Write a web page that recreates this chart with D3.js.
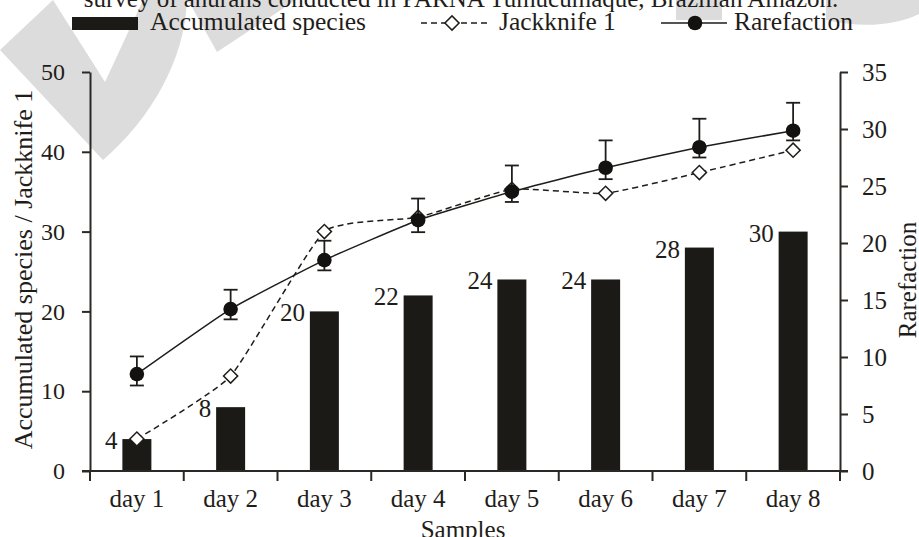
<!DOCTYPE html>
<html>
<head>
<meta charset="utf-8">
<script src="https://cdn.jsdelivr.net/npm/d3@7"></script>
<style>
  body { margin: 0; background: #fff; }
  svg { display: block; font-family: "Liberation Serif", "Times New Roman", serif; }
</style>
</head>
<body>
<script>
// data
const days = ["day 1", "day 2", "day 3", "day 4", "day 5", "day 6", "day 7", "day 8"];
const accumulated = [4, 8, 20, 22, 24, 24, 28, 30];
const jackknife = [4.0, 11.9, 30.0, 31.8, 35.3, 34.8, 37.4, 40.2];
const rarefaction = [8.5, 14.2, 18.5, 22.0, 24.5, 26.6, 28.4, 29.85];
const rareErrUp = [1.55, 1.7, 1.7, 1.9, 2.3, 2.4, 2.5, 2.45];
const rareErrDown = [1.0, 0.9, 0.9, 1.05, 0.9, 1.0, 0.9, 0.85];
const leftTicks = [0, 10, 20, 30, 40, 50];
const rightTicks = [0, 5, 10, 15, 20, 25, 30, 35];

const W = 919, H = 537,
      plotLeft = 90, plotRight = 840, plotTop = 72, plotBottom = 471,
      ink = "#1f1d1a";

const svg = d3.select("body").append("svg")
  .attr("width", W).attr("height", H);

// faint watermark shapes behind the chart
const wm = svg.append("g").attr("fill", "#dcdcdc");
wm.append("path").attr("d", "M0,50 L53,0 L105,82 L143,0 L187,0 C185,60 150,120 103,160 Z");
wm.append("path").attr("d", "M188,0 L217,52 L296,0 Z");
wm.append("path").attr("d", "M676,0 L722,0 L722,20 L676,20 Z");
wm.append("path").attr("d", "M826,0 L919,0 L919,14 C895,26 860,28 826,20 Z");

const x = d3.scaleBand(days, [plotLeft, plotRight]);
const yL = d3.scaleLinear([0, 50], [plotBottom, plotTop]);
const yR = d3.scaleLinear([0, 35], [plotBottom, plotTop]);
const barW = 29;
const cx = i => x(days[i]) + x.bandwidth() / 2;
const smooth = d3.curveCardinal.tension(0.55);

// bars
svg.append("g").selectAll("rect")
  .data(accumulated)
  .join("rect")
    .attr("x", (d, i) => cx(i) - barW / 2)
    .attr("y", d => yL(d))
    .attr("width", barW)
    .attr("height", d => yL(0) - yL(d))
    .attr("fill", "#1c1a17");

svg.append("g").selectAll("text")
  .data(accumulated)
  .join("text")
    .attr("x", (d, i) => cx(i) - barW / 2 - 5)
    .attr("y", d => yL(d) + 10)
    .attr("text-anchor", "end")
    .attr("font-size", 25)
    .attr("fill", ink)
    .text(d => d);

// jackknife dashed line
svg.append("path")
  .datum(jackknife)
  .attr("fill", "none")
  .attr("stroke", ink)
  .attr("stroke-width", 1.5)
  .attr("stroke-dasharray", "6,4")
  .attr("d", d3.line((d, i) => cx(i), d => yL(d)).curve(smooth));

const diamond = d3.symbol(d3.symbolSquare, 100);
svg.append("g").selectAll("path")
  .data(jackknife)
  .join("path")
    .attr("transform", (d, i) => `translate(${cx(i)},${yL(d)}) rotate(45)`)
    .attr("d", diamond)
    .attr("fill", "#fff")
    .attr("stroke", ink)
    .attr("stroke-width", 1.5);

// rarefaction line
svg.append("path")
  .datum(rarefaction)
  .attr("fill", "none")
  .attr("stroke", ink)
  .attr("stroke-width", 1.5)
  .attr("d", d3.line((d, i) => cx(i), d => yR(d)).curve(smooth));

const err = svg.append("g").attr("stroke", ink).attr("stroke-width", 1.8);
rarefaction.forEach((v, i) => {
  const hi = yR(v + rareErrUp[i]), lo = yR(v - rareErrDown[i]);
  err.append("line").attr("x1", cx(i)).attr("x2", cx(i)).attr("y1", hi).attr("y2", lo);
  err.append("line").attr("x1", cx(i) - 7).attr("x2", cx(i) + 7).attr("y1", hi).attr("y2", hi);
  err.append("line").attr("x1", cx(i) - 7).attr("x2", cx(i) + 7).attr("y1", lo).attr("y2", lo);
});

svg.append("g").selectAll("circle")
  .data(rarefaction)
  .join("circle")
    .attr("cx", (d, i) => cx(i))
    .attr("cy", d => yR(d))
    .attr("r", 7.3)
    .attr("fill", "#141210");

// axes
function styleAxis(g) {
  g.selectAll(".domain, .tick line").attr("stroke", "#2b2926").attr("stroke-width", 2);
  g.selectAll(".tick text").attr("fill", ink);
}

svg.append("g")
  .attr("transform", `translate(${plotLeft},0)`)
  .call(d3.axisLeft(yL).tickValues(leftTicks).tickSizeInner(8).tickSizeOuter(0).tickPadding(17))
  .attr("font-family", null).attr("font-size", 24)
  .call(styleAxis);

svg.append("g")
  .attr("transform", `translate(${plotRight},0)`)
  .call(d3.axisRight(yR).tickValues(rightTicks).tickSizeInner(8).tickSizeOuter(0).tickPadding(14))
  .attr("font-family", null).attr("font-size", 25)
  .call(styleAxis);

const gx = svg.append("g")
  .attr("transform", `translate(0,${plotBottom})`)
  .call(d3.axisBottom(x).tickSize(0).tickPadding(18))
  .attr("font-family", null).attr("font-size", 25)
  .call(styleAxis);
gx.select(".domain").attr("d", `M${plotLeft - 8},0H${plotRight + 8}`);
gx.selectAll(".bound")
  .data(days.map(d => x(d)).concat([plotRight]))
  .join("line")
    .attr("class", "bound")
    .attr("x1", d => d).attr("x2", d => d)
    .attr("y1", 0).attr("y2", 10)
    .attr("stroke", "#2b2926").attr("stroke-width", 2);

// axis titles
svg.append("text")
  .attr("transform", `translate(32,${(plotTop + plotBottom) / 2 - 2}) rotate(-90)`)
  .attr("text-anchor", "middle").attr("font-size", 26).attr("fill", ink)
  .text("Accumulated species / Jackknife 1");

svg.append("text")
  .attr("transform", "translate(916,280) rotate(-90)")
  .attr("text-anchor", "middle").attr("font-size", 25).attr("fill", ink)
  .text("Rarefaction");

svg.append("text")
  .attr("x", (plotLeft + plotRight) / 2 - 2).attr("y", 538)
  .attr("text-anchor", "middle").attr("font-size", 25).attr("fill", ink)
  .text("Samples");

// title, cut off at the top edge
svg.append("text")
  .attr("x", 461).attr("y", 7)
  .attr("text-anchor", "middle").attr("font-size", 25).attr("fill", ink)
  .text("survey of anurans conducted in PARNA Tumucumaque, Brazilian Amazon.");

// legend
const lg = svg.append("g").attr("font-size", 25.5).attr("fill", ink);
lg.append("rect").attr("x", 72).attr("y", 17).attr("width", 66).attr("height", 13).attr("fill", "#1c1a17");
lg.append("text").attr("x", 150).attr("y", 30).text("Accumulated species");

lg.append("line").attr("x1", 421).attr("x2", 489).attr("y1", 23).attr("y2", 23)
  .attr("stroke", ink).attr("stroke-width", 1.5).attr("stroke-dasharray", "6,4");
lg.append("path").attr("transform", "translate(452,23) rotate(45)").attr("d", diamond)
  .attr("fill", "#fff").attr("stroke", ink).attr("stroke-width", 1.5);
lg.append("text").attr("x", 499).attr("y", 30).text("Jackknife 1");

lg.append("line").attr("x1", 661).attr("x2", 727).attr("y1", 23).attr("y2", 23)
  .attr("stroke", ink).attr("stroke-width", 1.5);
lg.append("circle").attr("cx", 695).attr("cy", 23).attr("r", 7.3).attr("fill", "#141210");
lg.append("text").attr("x", 734).attr("y", 30).text("Rarefaction");
</script>
</body>
</html>
